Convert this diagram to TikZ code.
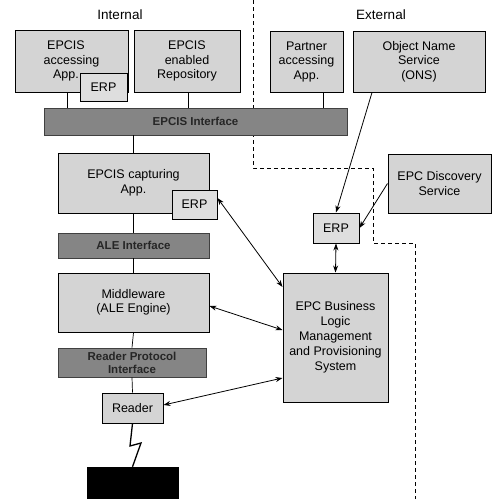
\documentclass[tikz,border=0pt]{standalone}
\usepackage{fontspec}
\setmainfont{Liberation Sans}
\usetikzlibrary{arrows.meta}
\definecolor{boxgray}{HTML}{D4D4D4}
\definecolor{erpgray}{HTML}{DEDEDE}
\definecolor{bargray}{HTML}{858585}
\begin{document}
\begin{tikzpicture}[x=1pt,y=-1pt,
  box/.style={draw=black, line width=1pt, fill=boxgray, inner sep=0pt, align=center,
    font=\fontsize{12.5}{14.5}\selectfont},
  erpbox/.style={box, fill=erpgray},
  barbox/.style={draw=black!75, line width=0.6pt, fill=bargray, inner sep=0pt, align=center,
    text=black!85, font=\bfseries\fontsize{11.5}{13}\selectfont},
  tagbox/.style={draw=black, fill=black, inner sep=0pt},
  title/.style={font=\fontsize{13.5}{15}\selectfont},
  link/.style={line width=0.7pt},
  arr/.style={line width=0.8pt, -{Stealth[length=7pt,width=5pt]}},
  darr/.style={line width=0.8pt, {Stealth[length=7pt,width=5pt]}-{Stealth[length=7pt,width=5pt]}},
  border/.style={line width=0.9pt, dash pattern=on 4pt off 3pt}]
\useasboundingbox (0,0) rectangle (493,499);

% boundary between internal and external
\coordinate (b0) at (253,0);
\coordinate (b1) at (253,168);
\coordinate (b2) at (373,168);
\coordinate (b3) at (373,243);
\coordinate (b4) at (415,243);
\coordinate (b5) at (415,499);
\draw[border] (b0) -- (b1) -- (b2) -- (b3) -- (b4) -- (b5);

% titles
\node[title] (tin) at (120,15) {Internal};
\node[title] (tex) at (381,15) {External};

% top row
\node[box, minimum width=113pt, minimum height=62pt] (acc) at (71.5,61)
  {EPCIS\hspace*{11pt}\\accessing\hspace*{11pt}\\App.\hspace*{11pt}};
\node[erpbox, minimum width=47pt, minimum height=28pt] (erp1) at (103.5,87) {ERP};
\node[box, minimum width=106pt, minimum height=62pt] (repo) at (187,61) {EPCIS\\enabled\\Repository};
\node[box, minimum width=73pt, minimum height=61pt] (partner) at (306.5,61.5) {Partner\\accessing\\App.};
\node[box, minimum width=132pt, minimum height=61pt] (ons) at (419,61.5) {Object Name\\Service\\(ONS)};

% EPCIS interface bar
\node[barbox, minimum width=303pt, minimum height=27pt] (epcisbar) at (195.5,121.5) {EPCIS Interface};

% internal stack
\node[box, minimum width=151pt, minimum height=60pt] (cap) at (133.5,183) {EPCIS capturing\\App.};
\node[erpbox, minimum width=45pt, minimum height=29pt] (erp2) at (194.5,204.5) {ERP};
\node[barbox, minimum width=151pt, minimum height=25pt] (alebar) at (133.5,245.5) {ALE Interface};
\node[box, minimum width=151pt, minimum height=59pt] (mid) at (133.5,302.5) {Middleware\\(ALE Engine)};
\node[barbox, minimum width=148pt, minimum height=29pt] (rpbar) at (132,362.5) {Reader Protocol\\Interface};
\node[box, minimum width=61pt, minimum height=30pt] (reader) at (132.5,408) {Reader};
\node[tagbox, minimum width=91pt, minimum height=31pt] (tag) at (132.5,482.5) {};

% external
\node[box, minimum width=103pt, minimum height=59pt] (disc) at (439.5,183.5) {EPC Discovery\\Service};
\node[erpbox, minimum width=46pt, minimum height=30pt] (erp3) at (336,228) {ERP};
\node[box, minimum width=105pt, minimum height=129pt, font=\fontsize{12.5}{15}\selectfont] (biz) at (335.5,337.5)
  {EPC Business\\Logic\\Management\\and Provisioning\\System};

% vertical links
\coordinate (c1) at (67,0);
\coordinate (c2) at (188,0);
\coordinate (c3) at (323,0);
\draw[link] (acc.south -| c1) -- (epcisbar.north -| c1);
\draw[link] (repo.south -| c2) -- (epcisbar.north -| c2);
\draw[link] (partner.south -| c3) -- (epcisbar.north -| c3);
\draw[link] (epcisbar.south -| cap.north) -- (cap.north);
\draw[link] (cap.south) -- (alebar.north);
\draw[link] (alebar.south) -- (mid.north);
\draw[link] (mid.south) -- (rpbar.north);
\draw[link] (rpbar.south) -- (reader.north);

% wireless link
\coordinate (z1) at (130,446);
\coordinate (z2) at (141,443);
\draw[line width=1.3pt] (reader.south) -- (z1) -- (z2) -- (tag.north);

% arrows
\coordinate (co) at (372,0);
\draw[arr] (ons.south -| co) -- (erp3.north);
\draw[arr] (disc.west) -- (erp3.east);
\draw[darr] (erp3.south) -- (biz.north);
\coordinate (y1) at (0,198);
\coordinate (y2) at (0,287);
\coordinate (y3) at (0,306);
\coordinate (y4) at (0,330);
\coordinate (y5) at (0,405);
\coordinate (y6) at (0,378);
\draw[darr] (erp2.east |- y1) -- (biz.west |- y2);
\draw[darr] (mid.east |- y3) -- (biz.west |- y4);
\draw[darr] (reader.east |- y5) -- (biz.west |- y6);
\end{tikzpicture}
\end{document}
